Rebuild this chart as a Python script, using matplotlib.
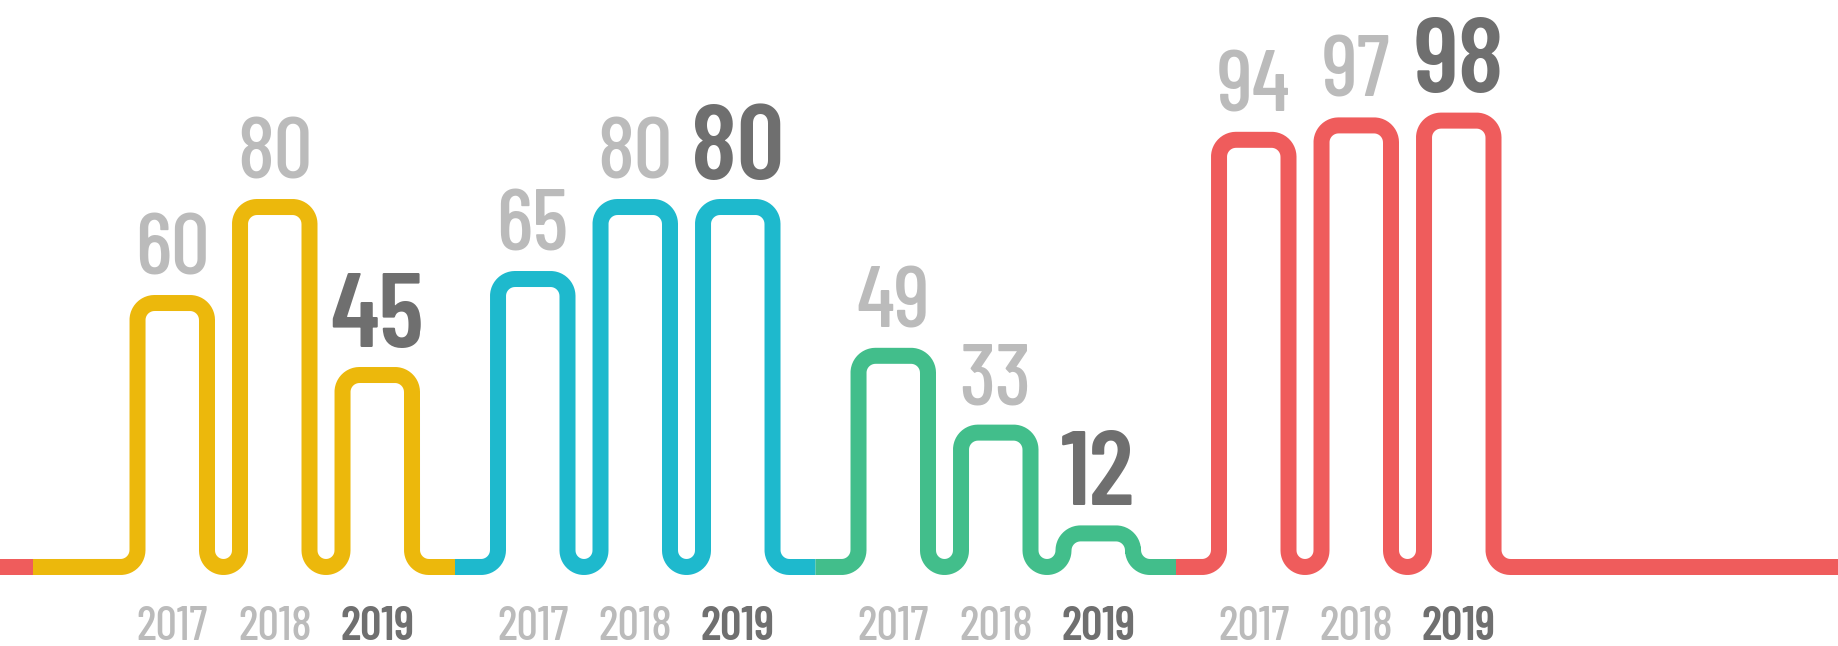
import numpy as np
import matplotlib
matplotlib.use("Agg")
import matplotlib.pyplot as plt
import matplotlib.transforms as mtransforms

# data
years = ["2017", "2018", "2019"]
group_colors = ["#ECB80C", "#1EB9CD", "#42BE8B", "#EF5C5C"]
yellow_vals = [60, 80, 45]
cyan_vals = [65, 80, 80]
green_vals = [49, 33, 12]
red_vals = [94, 97, 98]
groups = [yellow_vals, cyan_vals, green_vals, red_vals]

# layout (x in pixel-like units, y in value units)
BASE = 5
PX_PER_UNIT = 4.8
X0 = 137.5
GROUP_STEP = 360.5
COL_STEP = 102.5
COL_W = 69.5
R = 17.0
RU = (COL_STEP - COL_W) / 2
LW = 16 * 72 / 100

plt.rcParams["font.family"] = ["Barlow Condensed", "Roboto Condensed", "DejaVu Sans"]

fig = plt.figure(figsize=(18.38, 6.46), dpi=100)
ax = fig.add_axes([0, 0, 1, 1])
ax.set_xlim(0, 1838)
ax.set_ylim(BASE - 79 / PX_PER_UNIT, BASE + 567 / PX_PER_UNIT)
ax.axis("off")


def arc(cx, cy, rx, ry, t0, t1, n=24):
    t = np.linspace(t0, t1, n)
    return list(cx + rx * np.cos(t)), list(cy + ry * np.sin(t))


def group_path(start, end, ups, tops):
    ry = R / PX_PER_UNIT
    ryu = RU / PX_PER_UNIT
    xs, ys = [start], [BASE]
    down = None
    for i, (x, top) in enumerate(zip(ups, tops)):
        if i == 0:
            a, b = arc(x - R, BASE + ry, R, ry, -np.pi / 2, 0)
        else:
            a, b = arc((down + x) / 2, BASE + ryu, RU, ryu, np.pi, 2 * np.pi)
        xs += a; ys += b
        a, b = arc(x + R, top - ry, R, ry, np.pi, np.pi / 2)
        xs += a; ys += b
        a, b = arc(x + COL_W - R, top - ry, R, ry, np.pi / 2, 0)
        xs += a; ys += b
        down = x + COL_W
    a, b = arc(down + R, BASE + ry, R, ry, np.pi, 1.5 * np.pi)
    xs += a; ys += b
    xs.append(end); ys.append(BASE)
    return xs, ys


n_groups = len(groups)
switch = [X0 + g * GROUP_STEP - 43 for g in range(n_groups)]
switch[0] = 33
switch.append(1838)

# red tail at far left
ax.plot([0, switch[0]], [BASE, BASE], color=group_colors[-1], lw=LW,
        solid_capstyle="butt")

label_tr = mtransforms.blended_transform_factory(ax.transData, ax.transAxes)

for g, vals in enumerate(groups):
    ups = [X0 + g * GROUP_STEP + c * COL_STEP for c in range(len(vals))]
    xs, ys = group_path(switch[g], switch[g + 1], ups, vals)
    ax.plot(xs, ys, color=group_colors[g], lw=LW, solid_capstyle="butt",
            solid_joinstyle="round")
    for c, (x, v) in enumerate(zip(ups, vals)):
        cx = x + COL_W / 2
        last = c == len(vals) - 1
        ax.annotate(str(v), xy=(cx, v), xytext=(0, 20.5), textcoords="offset points",
                    ha="center", va="baseline",
                    fontsize=76 if last else 62,
                    fontweight=600 if last else 500,
                    color="#6F6F6F" if last else "#BBBBBB")
        ax.text(cx, 6 / 646, years[c], transform=label_tr, ha="center", va="baseline",
                fontsize=34, fontweight=600 if last else 500,
                color="#6F6F6F" if last else "#BBBBBB")

fig.savefig("out.png", dpi=100, facecolor="white")
